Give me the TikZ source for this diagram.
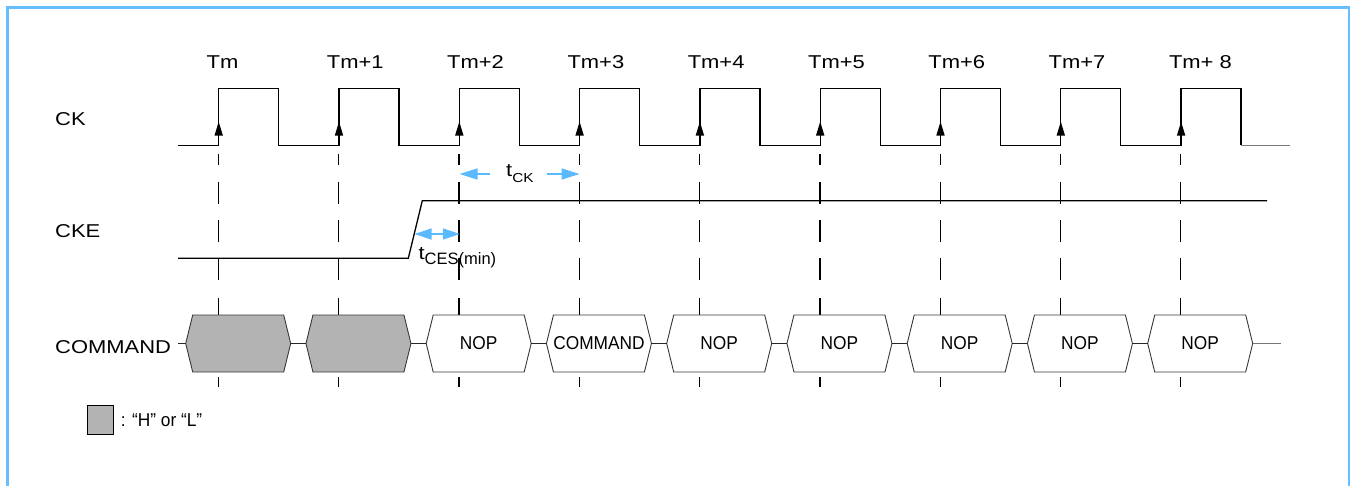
\documentclass[tikz,border=0pt]{standalone}
\usepackage{fontspec}
\setmainfont{Liberation Sans}
\newfontfamily\lblfont{Liberation Sans}[FakeStretch=1.18]
\newfontfamily\boxfont{Liberation Sans}[FakeStretch=0.93]
\usetikzlibrary{arrows.meta,calc}
\definecolor{frameblue}{RGB}{102,190,255}
\definecolor{arrblue}{RGB}{90,185,255}
\definecolor{boxgray}{RGB}{179,179,179}
\definecolor{edgegray}{RGB}{55,55,55}
\definecolor{tailgray}{RGB}{120,120,120}
\begin{document}
\begin{tikzpicture}[x=1pt,y=-1pt,
  sig/.style={line width=1.3pt,black,line join=miter},
  dsh/.style={line width=1.3pt,black},
  hexa/.style={draw=edgegray,line width=0.9pt},
  conn/.style={line width=1.2pt,black!85},
  tail/.style={line width=1.2pt,tailgray},
  lbl/.style={inner sep=0pt,font={\lblfont\fontsize{18.6}{20}\selectfont}},
  boxtxt/.style={inner sep=0pt,font={\boxfont\fontsize{18.6}{20}\selectfont}},
  tarr/.style={arrblue,line width=1.3pt,-{Triangle[length=18pt,width=11pt]}},
  darr/.style={arrblue,line width=1.3pt,{Triangle[length=17pt,width=11pt]}-{Triangle[length=17pt,width=11pt]}}]
\useasboundingbox (0,0) rectangle (1350,485);
% frame
\draw[frameblue,line width=3pt] (7.5,490) -- (7.5,7) -- (1349,7) -- (1349,490);

% signal names
\node[lbl,anchor=base west] (nck) at (55,125) {CK};
\node[lbl,anchor=base west] (ncke) at (55,237.7) {CKE};
\node[lbl,anchor=base west] (ncmd) at (55,353.7) {COMMAND};

% clock
\draw[sig] (178,145.3) \foreach \i in {0,...,8}{
  -- ({218.7+120.3*\i},145.3) -- ({218.7+120.3*\i},88.3)
  -- ({278.7+120.3*\i},88.3) -- ({278.7+120.3*\i},145.3)};
\coordinate (ckend) at (1290,145.3);
\draw[tail] ({278.7+120.3*8},145.3) -- (ckend);

% edges: labels, arrowheads, dashed lines
\foreach \i/\t in {0/Tm,1/Tm+1,2/Tm+2,3/Tm+3,4/Tm+4,5/Tm+5,6/Tm+6,7/Tm+7,8/Tm+ 8}{
  \pgfmathsetmacro\r{218.7+120.3*\i}
  \node[lbl,anchor=base west] (T\i) at ({\r-12.3},68.3) {\t};
  \fill (\r,121.7) -- ({\r-4.2},135.5) -- ({\r+4.2},135.5) -- cycle;
  \foreach \a/\b in {154/165,182/204,220/242,258/280,298/315,377/387}
    \draw[dsh] ({\r-0.3},\a) -- ({\r-0.3},\b);
}

% CKE
\draw[sig] (178,258.3) -- (408.3,258.3) -- (422.3,200.7) -- (1267,200.7);

% tCK
\node[lbl,anchor=base west] (tck) at (506,176.7) {t\raisebox{-5.3pt}{\fontsize{13}{13}\selectfont CK}};
\coordinate (tckl) at (490,174);
\coordinate (tckr) at (546.7,174);
\coordinate (e2) at (459.5,174);
\coordinate (e3) at (579.6,174);
\draw[tarr] (tckl) -- (e2);
\draw[tarr] (tckr) -- (e3);

% tCES(min)
\coordinate (cesl) at (414.5,234);
\coordinate (cesr) at (459.8,234);
\draw[darr] (cesl) -- (cesr);
\node[inner sep=0pt,anchor=base west,font={\lblfont\fontsize{18.6}{20}\selectfont}] (tces) at (418.5,259.3) {t};
\node[inner sep=0pt,anchor=base west,font={\fontsize{16.5}{17}\selectfont}] (tcessub) at (424.5,264.5) {CES(min)};

% command boxes
\draw[conn] (178,343.5) -- (185.7,343.5);
\foreach \i/\txt/\fl in {0//boxgray,1//boxgray,2/NOP/white,3/COMMAND/white,4/NOP/white,5/NOP/white,6/NOP/white,7/NOP/white,8/NOP/white}{
  \pgfmathsetmacro\L{185.7+120.25*\i}
  \filldraw[hexa,fill=\fl] (\L,343.5) -- ({\L+7},315) -- ({\L+98},315) -- ({\L+105},343.5) -- ({\L+98},372) -- ({\L+7},372) -- cycle;
  \node[boxtxt] (c\i) at ({\L+52.5},343.5) {\txt};
}
\foreach \i in {0,...,7}{
  \pgfmathsetmacro\L{185.7+120.25*\i}
  \draw[conn] ({\L+105},343.5) -- ({\L+120.25},343.5);
}
\coordinate (cmdend) at (1281,343.5);
\draw[tail] ({185.7+120.25*8+105},343.5) -- (cmdend);

% legend
\filldraw[fill=boxgray,draw=black,line width=1pt] (87.3,405) rectangle (113.7,434.3);
\node[boxtxt,anchor=base west] (leg) at (120.7,426) {: “H” or “L”};
\end{tikzpicture}
\end{document}
